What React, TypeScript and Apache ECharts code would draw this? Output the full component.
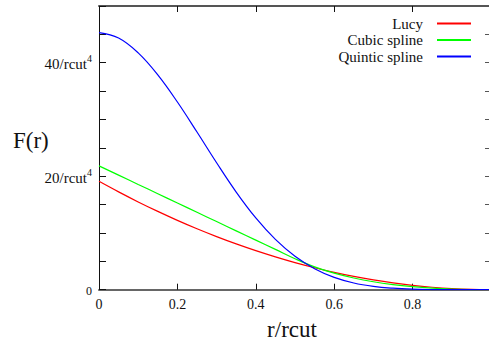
import React, { useEffect, useRef } from "react";
import * as echarts from "echarts";

// r / rcut sample positions
const rValues = [0, 0.05, 0.1, 0.15, 0.2, 0.25, 0.3, 0.35, 0.4, 0.45, 0.5, 0.55, 0.6, 0.65, 0.7, 0.75, 0.8, 0.85, 0.9, 0.95, 1.0];

// F(r) in units of 1/rcut^4
const lucy = [19.1, 17.24, 15.47, 13.8, 12.22, 10.74, 9.36, 8.07, 6.88, 5.78, 4.77, 3.87, 3.06, 2.34, 1.72, 1.19, 0.76, 0.43, 0.19, 0.05, 0];
const cubic = [21.83, 20.19, 18.55, 16.92, 15.28, 13.64, 12.01, 10.37, 8.73, 7.1, 5.46, 4.02, 2.91, 2.06, 1.4, 0.91, 0.55, 0.29, 0.12, 0.03, 0];
const quintic = [45.31, 44.35, 41.74, 37.86, 33.08, 27.79, 22.37, 17.21, 12.65, 8.87, 5.9, 3.7, 2.17, 1.18, 0.59, 0.27, 0.1, 0.03, 0.006, 0.0003, 0];

const seriesNames = ["Lucy", "Cubic spline", "Quintic spline"];
const seriesColors = ["#ff0000", "#00ff00", "#0000ff"];
const seriesValues = [lucy, cubic, quintic];

const labeledY = [20, 40];

const FONT = "'Liberation Serif', 'Times New Roman', serif";

export default function App() {
  const ref = useRef<HTMLDivElement>(null);

  useEffect(() => {
    if (!ref.current) return;
    const chart = echarts.init(ref.current, undefined, { renderer: "svg" });

    const option: any = {
      animation: false,
      backgroundColor: "#ffffff",
      textStyle: { fontFamily: FONT },
      grid: {
        left: 99,
        top: 6,
        width: 392,
        bottom: 52.3,
        containLabel: false,
        outerBoundsMode: "none",
      },
      graphic: [
        {
          type: "text",
          left: 13,
          top: 129,
          style: { text: "F(r)", fontFamily: FONT, fontSize: 23, fill: "#111" },
        },
      ],
      legend: {
        orient: "vertical",
        right: 13,
        top: 11,
        align: "right",
        icon: "rect",
        itemWidth: 34,
        itemHeight: 2,
        itemGap: 1.5,
        textStyle: { fontFamily: FONT, fontSize: 15, color: "#111", padding: [0, 9, 0, 0] },
        data: seriesNames,
      },
      xAxis: [
        {
          type: "value",
          min: 0,
          max: 1,
          interval: 0.2,
          name: "r/rcut",
          nameLocation: "middle",
          nameGap: 30,
          nameTextStyle: {
            fontFamily: FONT,
            fontSize: 23,
            lineHeight: 20,
            color: "#111",
            padding: [0, 6, 0, 0],
          },
          axisLine: { onZero: false, lineStyle: { color: "#666", width: 2 } },
          axisTick: { inside: true, length: 6, lineStyle: { color: "#111" } },
          axisLabel: { fontFamily: FONT, fontSize: 14, color: "#111", margin: 8, showMaxLabel: false },
          splitLine: { show: false },
        },
        {
          type: "value",
          position: "top",
          min: 0,
          max: 1,
          interval: 0.2,
          axisLine: { onZero: false, lineStyle: { color: "#555", width: 2 } },
          axisTick: { inside: true, length: 6, lineStyle: { color: "#111" } },
          axisLabel: { show: false },
          splitLine: { show: false },
        },
      ],
      yAxis: [
        {
          type: "value",
          min: 0,
          max: 50,
          interval: 5,
          axisLine: { onZero: false, lineStyle: { color: "#111", width: 1 } },
          axisTick: { inside: true, length: 7, lineStyle: { color: "#111" } },
          axisLabel: {
            margin: 7,
            formatter: (v: number) => {
              if (v === 0) return "{z|0}";
              if (labeledY.includes(v)) return `{a|${v}/rcut}{s|4}`;
              return "";
            },
            rich: {
              a: { fontFamily: FONT, fontSize: 15, color: "#111", padding: [3, 0, 0, 0] },
              s: { fontFamily: FONT, fontSize: 10, color: "#111", padding: [0, 0, 8, 0] },
              z: { fontFamily: FONT, fontSize: 12, color: "#111", padding: [2, 0, 0, 0] },
            },
          },
          splitLine: { show: false },
        },
        {
          type: "value",
          position: "right",
          min: 0,
          max: 50,
          interval: 5,
          axisLine: { onZero: false, lineStyle: { color: "#555", width: 2 } },
          axisTick: { inside: true, length: 6, lineStyle: { color: "#555" } },
          axisLabel: { show: false },
          splitLine: { show: false },
        },
      ],
      series: seriesNames.map((name, i) => ({
        name,
        type: "line",
        xAxisIndex: 0,
        yAxisIndex: 0,
        showSymbol: false,
        symbol: "none",
        smooth: 0.4,
        lineStyle: { color: seriesColors[i], width: 1.2 },
        itemStyle: { color: seriesColors[i] },
        data: rValues.map((r, j) => [r, seriesValues[i][j]]),
      })),
    };

    chart.setOption(option);
    return () => chart.dispose();
  }, []);

  return (
    <div
      ref={ref}
      style={{ position: "fixed", left: 0, top: 0, width: 489, height: 342 }}
    />
  );
}
